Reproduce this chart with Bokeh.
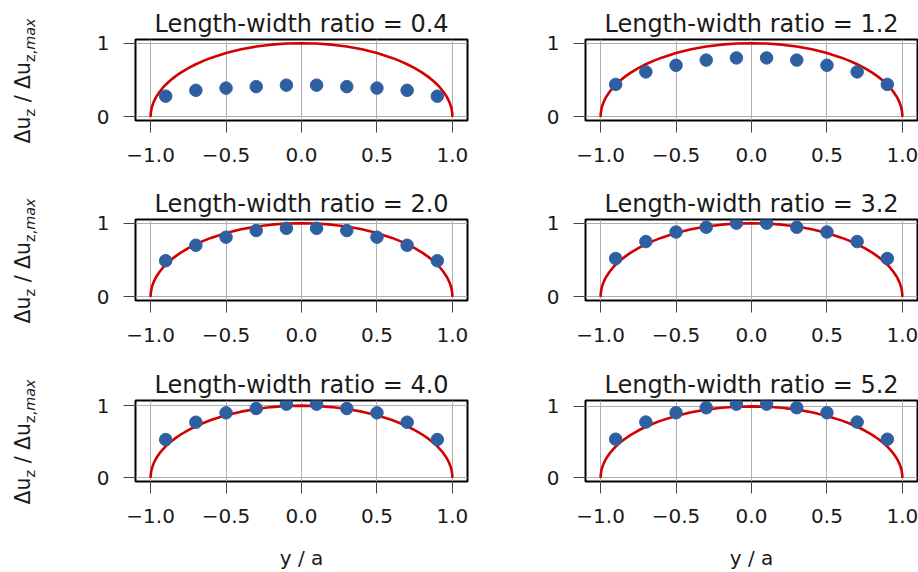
from bokeh.plotting import figure
from bokeh.models import FixedTicker, Range1d, Div
from bokeh.layouts import column, row
from bokeh.embed import file_html
from bokeh.resources import INLINE

# ---------------- data ----------------
ratios = [0.4, 1.2, 2.0, 3.2, 4.0, 5.2]
titles = ["Length-width ratio = 0.4", "Length-width ratio = 1.2",
          "Length-width ratio = 2.0", "Length-width ratio = 3.2",
          "Length-width ratio = 4.0", "Length-width ratio = 5.2"]

dot_x = [-0.9, -0.7, -0.5, -0.3, -0.1, 0.1, 0.3, 0.5, 0.7, 0.9]
dot_y_04 = [0.28, 0.36, 0.39, 0.41, 0.43, 0.43, 0.41, 0.39, 0.36, 0.28]
dot_y_12 = [0.44, 0.61, 0.70, 0.77, 0.80, 0.80, 0.77, 0.70, 0.61, 0.44]
dot_y_20 = [0.49, 0.70, 0.81, 0.90, 0.93, 0.93, 0.90, 0.81, 0.70, 0.49]
dot_y_32 = [0.52, 0.75, 0.88, 0.945, 1.00, 1.00, 0.945, 0.88, 0.75, 0.52]
dot_y_40 = [0.53, 0.77, 0.90, 0.96, 1.02, 1.02, 0.96, 0.90, 0.77, 0.53]
dot_y_52 = [0.54, 0.78, 0.91, 0.98, 1.03, 1.03, 0.98, 0.91, 0.78, 0.54]
dot_series = [dot_y_04, dot_y_12, dot_y_20, dot_y_32, dot_y_40, dot_y_52]

curve_x = [-1.0, -0.999, -0.995, -0.99, -0.98, -0.97, -0.96, -0.94, -0.92, -0.9,
           -0.87, -0.84, -0.8, -0.75, -0.7, -0.65, -0.6, -0.5, -0.4, -0.3, -0.2, -0.1,
           0.0,
           0.1, 0.2, 0.3, 0.4, 0.5, 0.6, 0.65, 0.7, 0.75, 0.8, 0.84, 0.87,
           0.9, 0.92, 0.94, 0.96, 0.97, 0.98, 0.99, 0.995, 0.999, 1.0]
curve_y = [0.0, 0.0447, 0.0999, 0.1411, 0.199, 0.2431, 0.28, 0.3412, 0.3919, 0.4359,
           0.4931, 0.5426, 0.6, 0.6614, 0.7141, 0.7599, 0.8, 0.866, 0.9165, 0.9539, 0.9798, 0.995,
           1.0,
           0.995, 0.9798, 0.9539, 0.9165, 0.866, 0.8, 0.7599, 0.7141, 0.6614, 0.6, 0.5426, 0.4931,
           0.4359, 0.3919, 0.3412, 0.28, 0.2431, 0.199, 0.1411, 0.0999, 0.0447, 0.0]

x_tick_vals = [-1.0, -0.5, 0.0, 0.5, 1.0]
x_tick_labels = ["\u22121.0", "\u22120.5", "0.0", "0.5", "1.0"]
y_tick_vals = [0, 1]
y_tick_labels = ["0", "1"]

x_label = "y / a"

# ---------------- style ----------------
FONT = "DejaVu Sans"
RED = "#d40000"
BLUE = "#2e5fa1"
TEXT = "#1a1a1a"
DIV_W = 50


def make_fig(idx, left_col, row_i):
    bottom_row = row_i == 2
    w = (420 if left_col else 448)
    h = 212 if bottom_row else 180
    top = 40 if bottom_row else 39
    bottom = h - top - 81
    ys = dot_series[idx]
    ymax = max(max(ys), max(curve_y))
    ymin = 0.0
    span = ymax - ymin
    p = figure(width=w, height=h, output_backend="svg", toolbar_location=None,
               x_range=Range1d(-1.1, 1.1),
               y_range=Range1d(ymin - 0.05 * span, ymax + 0.05 * span),
               min_border_left=(85 if left_col else 115),
               min_border_right=(3 if left_col else 1),
               min_border_top=top, min_border_bottom=bottom,
               background_fill_color="white", border_fill_color="white")
    p.title.text = titles[idx]
    p.title.text_font = FONT
    p.title.text_font_size = "24px"
    p.title.text_font_style = "normal"
    p.title.text_color = TEXT
    p.title.align = "center"
    p.title.standoff = 3

    p.outline_line_color = "black"
    p.outline_line_width = 2

    p.xaxis.ticker = FixedTicker(ticks=x_tick_vals)
    p.yaxis.ticker = FixedTicker(ticks=y_tick_vals)
    p.xaxis.major_label_overrides = {v: l for v, l in zip(x_tick_vals, x_tick_labels)}
    p.yaxis.major_label_overrides = {v: l for v, l in zip(y_tick_vals, y_tick_labels)}
    for ax in (p.xaxis, p.yaxis):
        ax.axis_line_color = None
        ax.major_tick_in = 0
        ax.major_tick_out = 12
        ax.major_tick_line_color = "#444444"
        ax.major_tick_line_width = 1
        ax.minor_tick_line_color = None
        ax.major_label_text_font = FONT
        ax.major_label_text_font_size = "20px"
        ax.major_label_text_color = TEXT
    p.xaxis.major_label_standoff = 15
    p.yaxis.major_label_standoff = 14
    if bottom_row:
        p.xaxis.axis_label = x_label
        p.xaxis.axis_label_text_font = FONT
        p.xaxis.axis_label_text_font_size = "20px"
        p.xaxis.axis_label_text_font_style = "normal"
        p.xaxis.axis_label_text_color = TEXT
        p.xaxis.axis_label_standoff = 20

    p.xgrid.grid_line_color = "#b0b0b0"
    p.ygrid.grid_line_color = "#b0b0b0"
    p.xgrid.grid_line_width = 1
    p.ygrid.grid_line_width = 1

    p.line(curve_x, curve_y, line_color=RED, line_width=2.6)
    p.scatter(dot_x, ys, size=12.5, fill_color=BLUE, line_color=BLUE, line_width=1)
    return p


def make_ylabel(row_i):
    h = 212 if row_i == 2 else 180
    cy = (40 if row_i == 2 else 39) + 42
    html = ('<div style="position:relative;width:%dpx;height:%dpx;">'
            '<div style="position:absolute;left:25px;top:%dpx;'
            'transform:translate(-50%%,-50%%) rotate(-90deg);white-space:nowrap;'
            'font-family:\'DejaVu Sans\';font-size:20.5px;color:%s;line-height:1;">'
            '\u0394u<sub style="font-size:70%%">z</sub> / '
            '\u0394u<sub style="font-size:70%%">z,<i>max</i></sub></div></div>') % (DIV_W, h, cy, TEXT)
    return Div(text=html, width=DIV_W, height=h, margin=0)


rows = []
for r in range(3):
    fl = make_fig(2 * r, True, r)
    fr = make_fig(2 * r + 1, False, r)
    rows.append(row(make_ylabel(r), fl, fr, spacing=0))

layout = column(*rows, spacing=0)

open("out.html", "w").write(file_html(layout, INLINE))
